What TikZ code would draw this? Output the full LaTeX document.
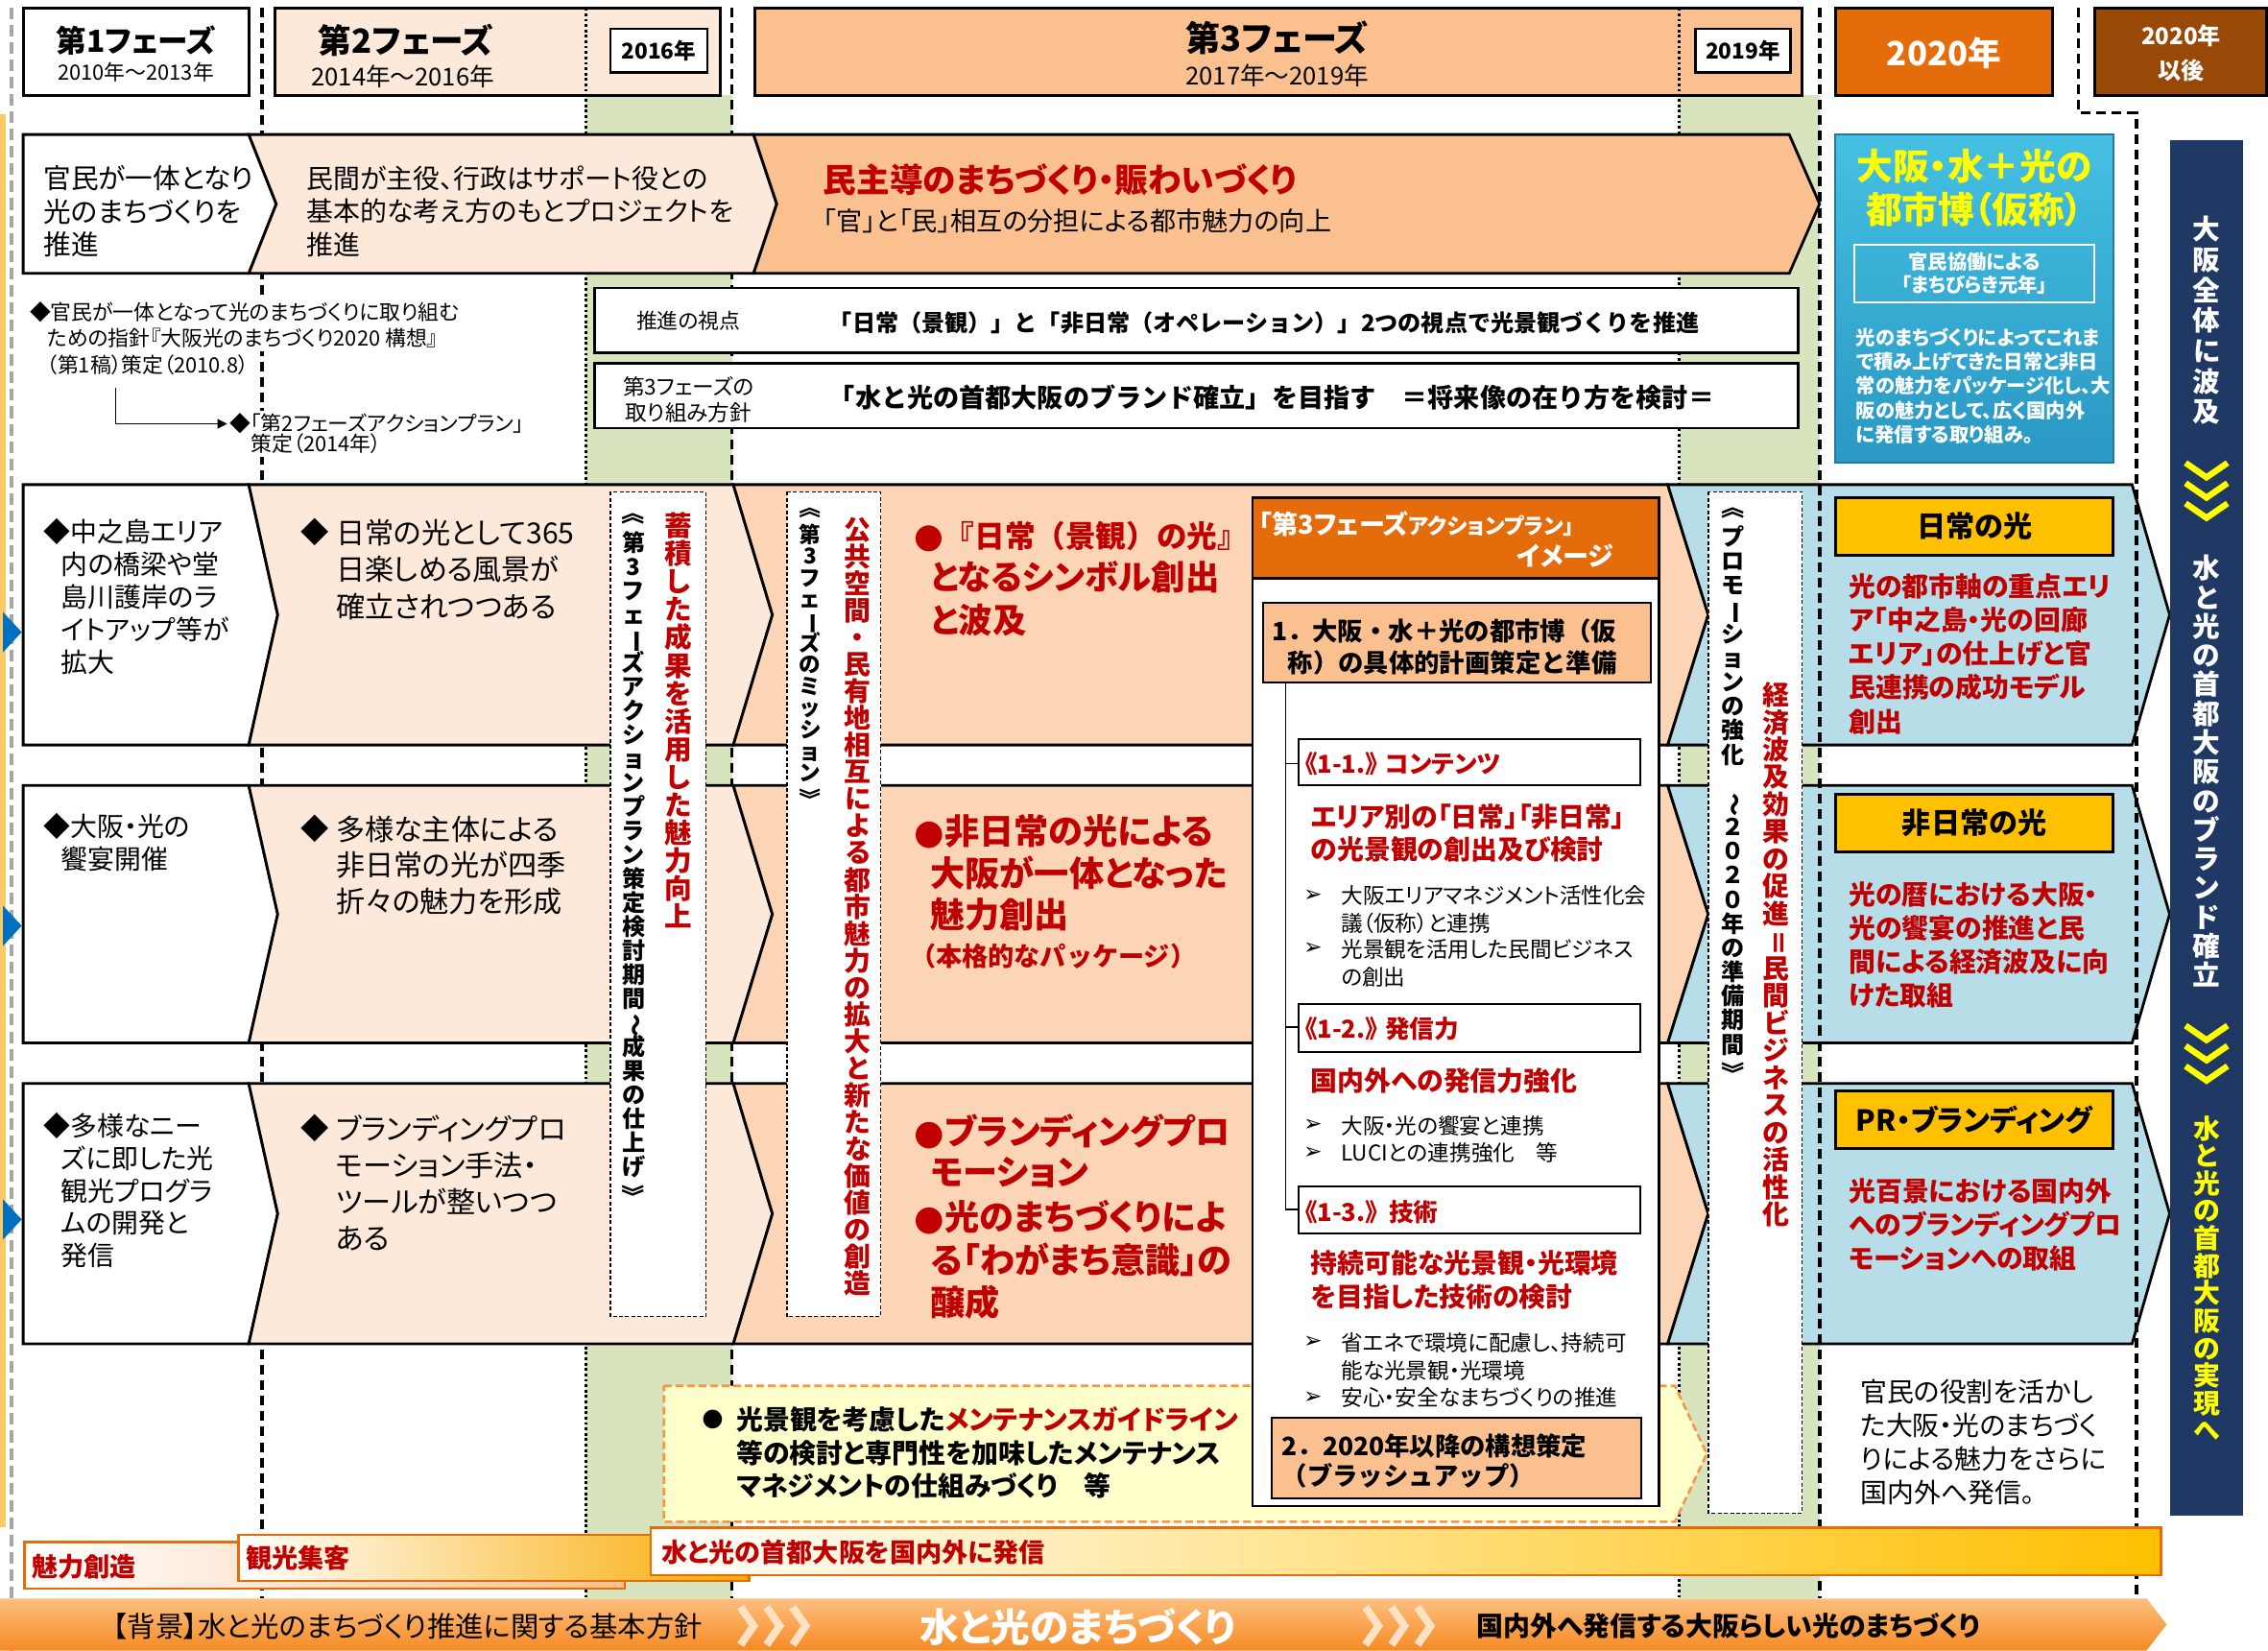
\documentclass[tikz,border=0pt]{standalone}
\usepackage{fontspec}
\usepackage{graphicx}
\setmainfont{Noto Sans CJK JP}[RawFeature=+palt]
\newfontfamily\fw{Noto Sans CJK JP}
\newfontfamily\dv{DejaVu Sans}
\usetikzlibrary{arrows.meta}
\newcommand\fs[2]{\fontsize{\dimexpr#1pt*3/4\relax}{\dimexpr#2pt*3/4\relax}\selectfont}
\newcommand\ind[1]{\hspace*{\dimexpr#1pt*3/4\relax}}
\newcommand\rt[1]{\rotatebox[origin=c]{-90}{#1}}
\ExplSyntaxOn
\dim_new:N \l__vt_p_dim
\NewDocumentCommand \vtext { m m }
  {
    \dim_set:Nn \l__vt_p_dim { #1 pt * 3 / 4 }
    \vbox:n
      {
        \offinterlineskip
        \tl_map_inline:nn { #2 }
          {
            \hbox_to_wd:nn { 1.3em }
              {
                \hss
                \vrule height 0.88 \l__vt_p_dim depth 0.12 \l__vt_p_dim width 0pt \scan_stop:
                \smash { ##1 }
                \hss
              }
          }
      }
  }
\ExplSyntaxOff
\definecolor{myred}{HTML}{C00000}
\definecolor{peachA}{HTML}{FDE9D9}
\definecolor{peachB}{HTML}{FBD5B5}
\definecolor{peachC}{HTML}{FAC090}
\definecolor{lblue}{HTML}{B7DEE8}
\definecolor{lgreen}{HTML}{D7E4BD}
\definecolor{orgA}{HTML}{E46C0A}
\definecolor{brownA}{HTML}{984807}
\definecolor{navyA}{HTML}{1F3864}
\definecolor{yelA}{HTML}{FFC000}
\definecolor{ylight}{HTML}{FFFFCC}
\definecolor{borg}{HTML}{F79646}
\definecolor{blueA}{HTML}{0070C0}
\definecolor{cyanA}{HTML}{45C0E2}
\definecolor{cyanB}{HTML}{2A98C4}
\definecolor{yellowT}{HTML}{FFFF00}
\definecolor{lorange}{HTML}{FFC966}
\definecolor{stripT}{HTML}{FDBF80}
\definecolor{stripB}{HTML}{F68A24}
\definecolor{chevL}{HTML}{FFE2C4}
\begin{document}
\begin{tikzpicture}[x=0.75pt,y=-0.75pt,
  seg/.style={draw=black,line width=1.4pt,line join=miter},
  hbox/.style={draw=black,line width=1.6pt},
  tx/.style={inner sep=0pt,anchor=west},
  blk/.style={inner sep=0pt,anchor=north west,align=left},
  ctr/.style={inner sep=0pt,align=center},
  bdash/.style={draw=black,line width=1.8pt,dash pattern=on 5pt off 3pt},
  dotline/.style={draw=black,line width=1.4pt,dash pattern=on 1.4pt off 1.4pt},
  gdash/.style={draw=gray!70,line width=1.6pt,dash pattern=on 6pt off 3pt},
  vcol/.style={draw=black,fill=white,line width=0.7pt,dash pattern=on 2pt off 1.2pt},
  rd/.style={text=myred},
  vt/.style={inner sep=0pt,anchor=north},
  note/.style={inner xsep=1pt,inner ysep=1.5pt,anchor=west,fill=white,font=\fs{14.5}{16}},
]
\useasboundingbox (0,0) rectangle (1568,1141);
\fill[white] (0,0) rectangle (1568,1141);

% ---------- background bands and timeline lines
\fill[lgreen] (405,66) rectangle (506,1105);
\fill[lgreen] (1161,66) rectangle (1258,1105);
\draw[dotline] (405,5) -- (405,1105);
\draw[dotline] (1161,5) -- (1161,1105);
\draw[bdash] (181,5) -- (181,1105);
\draw[bdash] (506,5) -- (506,1105);
\draw[gdash] (8,5) -- (8,1141);
\fill[lorange] (0,79) rectangle (4,1056);

% ---------- header
\filldraw[hbox,fill=white] (16,5.5) rectangle (172,66);
\node[ctr,font=\bfseries\fs{21}{24}] (p1) at (94,28) {第1フェーズ};
\node[ctr,font=\fs{14.5}{16}] (p1y) at (94,50) {2010年～2013年};

\filldraw[hbox,fill=peachA] (190,5.5) rectangle (498,66);
\draw[dotline] (405,5.5) -- (405,66);
\node[tx,font=\bfseries\fs{23}{24}] (p2) at (220,28) {第2フェーズ};
\node[tx,font=\fs{17}{18}] (p2y) at (215,53) {2014年～2016年};
\filldraw[draw=black,line width=1.3pt,fill=white] (422,20) rectangle (489,50);
\node[ctr,font=\bfseries\fs{15}{16}] (y16) at (455.5,35) {2016年};

\filldraw[hbox,fill=peachC] (522,5.5) rectangle (1246,66);
\draw[dotline] (1161,5.5) -- (1161,66);
\node[ctr,font=\bfseries\fs{24}{26}] (p3) at (883,26) {第3フェーズ};
\node[ctr,font=\fs{17}{18}] (p3y) at (883,52) {2017年～2019年};
\filldraw[draw=black,line width=1.3pt,fill=white] (1172,20) rectangle (1238,50);
\node[ctr,font=\bfseries\fs{15}{16}] (y19) at (1205,35) {2019年};

\filldraw[hbox,fill=orgA] (1269,5.5) rectangle (1419,66);
\node[ctr,text=white,font=\bfseries\fs{23}{24}] (y20) at (1344,37) {2020年};
\filldraw[hbox,fill=brownA] (1448,5.5) rectangle (1567,66);
\node[ctr,text=white,font=\bfseries\fs{16}{24}] (y20a) at (1508,37) {2020年\\以後};

% ---------- concept row
\filldraw[seg,fill=white] (16,93) -- (172,93) -- (191,141) -- (172,189) -- (16,189) -- cycle;
\filldraw[seg,fill=peachA] (172,93) -- (521,93) -- (537,141) -- (521,189) -- (172,189) -- (191,141) -- cycle;
\filldraw[seg,fill=peachC] (521,93) -- (1237,93) -- (1258,141) -- (1237,189) -- (521,189) -- (537,141) -- cycle;
\node[blk,font=\fs{19}{23}] (c1) at (30,114) {官民が一体となり\\光のまちづくりを\\推進};
\node[blk,font=\fs{18.5}{23}] (c2) at (212,114.3) {民間が主役、行政はサポート役との\\基本的な考え方のもとプロジェクトを\\推進};
\node[tx,rd,font=\bfseries\fs{23}{24}] (c3) at (569,124) {民主導のまちづくり・賑わいづくり};
\node[tx,font=\fs{18}{20}] (c3b) at (569,153) {「官」と「民」相互の分担による都市魅力の向上};

% ---------- notes
\coordinate (na) at (80,268);
\node[note] (n1) at (19,216) {◆官民が一体となって光のまちづくりに取り組む};
\node[note] (n2) at (31,234) {ための指針『大阪光のまちづくり2020 構想』};
\node[note] (n3) at (31,252) {（第1稿）策定（2010.8）};
\node[note] (n4) at (157,293) {◆「第2フェーズアクションプラン」};
\node[note] (n5) at (172,307) {策定（2014年）};
\draw[line width=0.6pt,-{Triangle[length=5pt,width=5pt]}] (na) |- (n4.west);

% ---------- viewpoint boxes
\filldraw[draw=black,line width=1.3pt,fill=white] (411,199) rectangle (1243,244);
\node[ctr,font=\fs{14.5}{16}] (v1) at (476,222) {推進の視点};
\node[tx,font=\fw\bfseries\fs{16}{18}] (v1t) at (573,223) {「日常（景観）」と「非日常（オペレーション）」2つの視点で光景観づくりを推進};
\filldraw[draw=black,line width=1.3pt,fill=white] (411,251) rectangle (1243,296);
\node[ctr,font=\fs{15}{18}] (v2) at (476,276) {第3フェーズの\\取り組み方針};
\node[tx,font=\fw\bfseries\fs{18}{20}] (v2t) at (573,275) {「水と光の首都大阪のブランド確立」を目指す　＝将来像の在り方を検討＝};

% ---------- three rows
\foreach \t/\b in {335/515,543/721,749/929}{
  \pgfmathsetmacro\m{(\t+\b)/2}
  \filldraw[seg,fill=white] (16,\t) -- (172,\t) -- (192,\m) -- (172,\b) -- (16,\b) -- cycle;
  \filldraw[seg,fill=peachA] (172,\t) -- (507,\t) -- (534,\m) -- (507,\b) -- (172,\b) -- (192,\m) -- cycle;
  \filldraw[seg,fill=peachB] (507,\t) -- (1153,\t) -- (1181,\m) -- (1153,\b) -- (507,\b) -- (534,\m) -- cycle;
  \filldraw[seg,fill=lblue] (1153,\t) -- (1474,\t) -- (1500,\m) -- (1474,\b) -- (1153,\b) -- (1181,\m) -- cycle;
}
\foreach \yy in {437,640,843}{
  \fill[blueA] (2,\yy-14) -- (15,\yy) -- (2,\yy+14) -- cycle;
}

% row 1
\node[blk,font=\fs{18.5}{22.5}] (r1a) at (30,358.3) {◆中之島エリア\\\ind{12}内の橋梁や堂\\\ind{12}島川護岸のラ\\\ind{12}イトアップ等が\\\ind{12}拡大};
\node[tx,font=\fs{19.5}{20}] (r1d) at (208,368) {◆};
\node[blk,font=\fs{20}{25.5}] (r1b) at (232,358.8) {日常の光として365\\日楽しめる風景が\\確立されつつある};
\node[blk,rd,font=\bfseries\fs{23.5}{29.5}] (r1c) at (632,360) {{\dv ●}{\fw\fs{21}{29.5}『日常（景観）の光』}\\\ind{11}となるシンボル創出\\\ind{11}と波及};
% row 2
\node[blk,font=\fs{18.5}{22}] (r2a) at (30,562.3) {◆大阪・光の\\\ind{12}饗宴開催};
\node[tx,font=\fs{19.5}{20}] (r2d) at (208,573) {◆};
\node[blk,font=\fs{20}{25}] (r2b) at (232,563.6) {多様な主体による\\非日常の光が四季\\折々の魅力を形成};
\node[blk,rd,font=\bfseries\fs{24}{29}] (r2c) at (632,562.7) {{\dv ●}非日常の光による\\\ind{11}大阪が一体となった\\\ind{11}魅力創出};
\node[tx,rd,font=\fw\bfseries\fs{18}{20}] (r2e) at (629,661) {（本格的なパッケージ）};
% row 3
\node[blk,font=\fs{18.5}{22.3}] (r3a) at (30,769.3) {◆多様なニー\\\ind{12}ズに即した光\\\ind{12}観光プログラ\\\ind{12}ムの開発と\\\ind{12}発信};
\node[tx,font=\fs{19.5}{20}] (r3d) at (208,780) {◆};
\node[blk,font=\fs{20}{25.3}] (r3b) at (232,770.6) {ブランディングプロ\\モーション手法・\\ツールが整いつつ\\ある};
\node[blk,rd,font=\bfseries\fs{24}{28}] (r3c) at (632,769.7) {{\dv ●}ブランディングプロ\\\ind{11}モーション};
\node[blk,rd,font=\bfseries\fs{24}{29.5}] (r3e) at (632,829.7) {{\dv ●}光のまちづくりによ\\\ind{11}る「わがまち意識」の\\\ind{11}醸成};

% ---------- maintenance box
\filldraw[draw=borg,line width=1.3pt,dash pattern=on 4pt off 2pt,fill=ylight] (459,958) -- (1158,958) -- (1180,1005) -- (1158,1052) -- (459,1052) -- cycle;
\node[tx,font=\dv\bfseries\fs{17}{18}] (mb) at (485,981) {●};
\node[blk,font=\bfseries\fs{18.5}{23}] (mt) at (509,972.3) {光景観を考慮した\textcolor{myred}{メンテナンスガイドライン}\\等の検討と専門性を加味したメンテナンス\\マネジメントの仕組みづくり　等};

% ---------- vertical dashed columns
\filldraw[vcol] (422,340) rectangle (488,910);
\node[vt,font=\bfseries\fs{16}{16}] (col1a) at (438,349.7) {\vtext{16.6}{{\rt{《}}第3フェ{\rt{ー}}ズアクションプラン策定検討期間{\rt{～}}成果の仕上げ{\rt{》}}}};
\node[vt,rd,font=\bfseries\fs{19}{19}] (col1b) at (469,353.4) {\vtext{19.3}{蓄積した成果を活用した魅力向上}};
\filldraw[vcol] (544,340) rectangle (609,910);
\node[vt,font=\bfseries\fs{15}{15}] (col2a) at (560,346.5) {\vtext{15}{{\rt{《}}第3フェ{\rt{ー}}ズのミッション{\rt{》}}}};
\node[vt,rd,font=\bfseries\fs{18.5}{18.5}] (col2b) at (593,356.7) {\vtext{18.6}{公共空間・民有地相互による都市魅力の拡大と新たな価値の創造}};
\filldraw[vcol] (1181,340) rectangle (1246,1046);
\node[vt,font=\bfseries\fs{16}{16}] (col3a) at (1198,345.6) {\vtext{16.7}{{\rt{《}}プロモ{\rt{ー}}ションの強化　{\rt{～}}２０２０年の準備期間{\rt{》}}}};
\node[vt,rd,font=\bfseries\fs{18.5}{18.5}] (col3b) at (1228,470.5) {\vtext{18.9}{経済波及効果の促進{\rt{＝}}民間ビジネスの活性化}};

% ---------- action plan box
\filldraw[draw=black,line width=1.3pt,fill=white] (866,344) rectangle (1147,1041);
\filldraw[draw=black,line width=1.3pt,fill=orgA] (866,344) rectangle (1147,400);
\node[tx,text=white,font=\bfseries] (ah) at (870,362) {{\fs{18}{20}「第3フェーズ}{\fs{15}{17}アクションプラン」}};
\node[inner sep=0pt,anchor=east,text=white,font=\bfseries\fs{18}{20}] (ah2) at (1116,384) {イメージ};
\filldraw[draw=black,line width=1pt,fill=peachC] (873,417) rectangle (1141,472);
\node[blk,font=\fw\bfseries\fs{17.5}{21.5}] (i1) at (879,427.8) {1．大阪・水＋光の都市博（仮\\\ind{11}称）の具体的計画策定と準備};
\coordinate (tr0) at (889,472);
\coordinate (tr1) at (889,528);
\coordinate (tr2) at (889,710);
\coordinate (tr3) at (889,836);
\filldraw[draw=black,line width=1pt,fill=white] (898,511) rectangle (1134,543);
\filldraw[draw=black,line width=1pt,fill=white] (898,694) rectangle (1134,727);
\filldraw[draw=black,line width=1pt,fill=white] (898,820) rectangle (1134,853);
\draw[line width=0.7pt] (tr0) -- (tr3) -- (898,836);
\draw[line width=0.7pt] (tr1) -- (898,528);
\draw[line width=0.7pt] (tr2) -- (898,710);
\node[tx,rd,font=\bfseries\fs{17}{18}] (s1) at (902,528) {《1-1.》 コンテンツ};
\node[tx,rd,font=\bfseries\fs{17}{18}] (s2) at (902,711) {《1-2.》 発信力};
\node[tx,rd,font=\bfseries\fs{17}{18}] (s3) at (902,838) {《1-3.》\ \ 技術};
\node[blk,rd,font=\bfseries\fs{18.5}{23}] (d1) at (906,555.3) {エリア別の「日常」「非日常」\\の光景観の創出及び検討};
\node[tx,rd,font=\bfseries\fs{18.5}{20}] (d2) at (906,747) {国内外への発信力強化};
\node[blk,rd,font=\bfseries\fs{18.5}{23}] (d3) at (906,864.3) {持続可能な光景観・光環境\\を目指した技術の検討};
\foreach \yy in {619,656,778,797,928,966}{
  \node[tx,font=\dv\fs{15.5}{16}] at (901,\yy) {➢};
}
\node[blk,font=\fs{15}{19}] (b1) at (927,612) {大阪エリアマネジメント活性化会\\議（仮称）と連携};
\node[blk,font=\fs{15}{19}] (b2) at (927,649) {光景観を活用した民間ビジネス\\の創出};
\node[tx,font=\fs{15}{16}] (b3) at (927,778) {大阪・光の饗宴と連携};
\node[tx,font=\fs{15}{16}] (b4) at (927,797) {LUCIとの連携強化　等};
\node[blk,font=\fs{15}{19}] (b5) at (927,921) {省エネで環境に配慮し、持続可\\能な光景観・光環境};
\node[tx,font=\fs{15}{16}] (b6) at (927,966) {安心・安全なまちづくりの推進};
\filldraw[draw=black,line width=1pt,fill=peachC] (879,980) rectangle (1135,1036);
\node[blk,font=\fw\bfseries\fs{17.5}{20.5}] (i2) at (886,990.8) {2．2020年以降の構想策定\\（ブラッシュアップ）};

% ---------- 2020 column
\shade[top color=cyanA,bottom color=cyanB] (1269,93) rectangle (1461,320);
\draw[draw=cyanB!80!black,line width=1pt] (1269,93) rectangle (1461,320);
\node[ctr,text=yellowT,font=\bfseries\fs{25}{30}] (ex) at (1365,130) {大阪・水＋光の\\都市博（仮称）};
\draw[white,line width=1pt] (1282,169) rectangle (1448,209);
\node[ctr,text=white,font=\bfseries\fs{13.5}{16}] (ex2) at (1365,189) {官民協働による\\「まちびらき元年」};
\node[blk,text=white,font=\bfseries\fs{13.5}{16.8}] (ex3) at (1283,226.5) {光のまちづくりによってこれま\\で積み上げてきた日常と非日\\常の魅力をパッケージ化し、大\\阪の魅力として、広く国内外\\に発信する取り組み。};

\filldraw[draw=black,line width=1.5pt,fill=yelA] (1269,344) rectangle (1461,384);
\node[ctr,font=\bfseries\fs{20}{22}] (k1) at (1365,364) {日常の光};
\node[blk,rd,font=\bfseries\fs{18.5}{23.3}] (k1t) at (1278,396.3) {光の都市軸の重点エリ\\ア「中之島・光の回廊\\エリア」の仕上げと官\\民連携の成功モデル\\創出};
\filldraw[draw=black,line width=1.5pt,fill=yelA] (1269,549) rectangle (1461,589);
\node[ctr,font=\bfseries\fs{20}{22}] (k2) at (1365,569) {非日常の光};
\node[blk,rd,font=\bfseries\fs{18.5}{23.3}] (k2t) at (1278,609.3) {光の暦における大阪・\\光の饗宴の推進と民\\間による経済波及に向\\けた取組};
\filldraw[draw=black,line width=1.5pt,fill=yelA] (1269,754) rectangle (1461,794);
\node[ctr,font=\bfseries\fs{20}{22}] (k3) at (1365,774) {PR・ブランディング};
\node[blk,rd,font=\bfseries\fs{18.5}{23.3}] (k3t) at (1278,814.3) {光百景における国内外\\へのブランディングプロ\\モーションへの取組};
\node[blk,font=\fs{18.5}{23.3}] (k4) at (1286,953.3) {官民の役割を活かし\\た大阪・光のまちづく\\りによる魅力をさらに\\国内外へ発信。};

% dashed lines above the rows
\draw[bdash] (1258,5) -- (1258,1105);
\draw[bdash] (1437,5) -- (1437,78) -- (1477,78) -- (1477,1105);

% ---------- navy bar
\fill[navyA] (1500,97) rectangle (1551,1048);
\node[vt,text=white,font=\bfseries\fs{19}{19}] (nv1) at (1525.5,147) {\vtext{21}{大阪全体に波及}};
\node[vt,text=white,font=\bfseries\fs{19}{19}] (nv2) at (1525.5,382) {\vtext{20.1}{水と光の首都大阪のブランド確立}};
\node[vt,text=yellowT,font=\bfseries\fs{18.5}{18.5}] (nv3) at (1525.5,770) {\vtext{19}{水と光の首都大阪の実現へ}};
\foreach \yy in {320,334,348,709,723,737}{
  \draw[yellowT,line width=3.2pt,line join=miter] (1511,\yy) -- (1525.5,\yy+10) -- (1540,\yy);
}

% ---------- bottom bars
\shadedraw[draw=orgA,line width=1.2pt,left color=white,right color=peachC] (17,1066) rectangle (432,1098);
\shadedraw[draw=orgA,line width=1.2pt,left color=white,right color=yelA!75!orgA] (165,1061) rectangle (518,1093);
\shadedraw[draw=orgA,line width=1.2pt,left color=white,right color=yelA] (450,1056) rectangle (1494,1089);
\node[tx,rd,font=\bfseries\fs{18}{20}] (bb1) at (22,1083) {魅力創造};
\node[tx,rd,font=\bfseries\fs{18}{20}] (bb2) at (170,1077) {観光集客};
\node[tx,rd,font=\bfseries\fs{18}{20}] (bb3) at (457,1073) {水と光の首都大阪を国内外に発信};

\shade[top color=stripT,bottom color=stripB] (0,1105) -- (1484,1105) -- (1498,1123) -- (1484,1141) -- (0,1141) -- cycle;
\foreach \xx in {512,530,548,944,962,980}{
  \draw[chevL,line width=4pt] (\xx,1111) -- (\xx+9,1124) -- (\xx,1137);
}
\node[ctr,font=\fs{19.5}{20}] (st1) at (282,1124) {【背景】水と光のまちづくり推進に関する基本方針};
\node[ctr,text=white,font=\bfseries\fs{27}{28}] (st2) at (745,1125) {水と光のまちづくり};
\node[ctr,font=\bfseries\fs{18.5}{20}] (st3) at (1195,1124) {国内外へ発信する大阪らしい光のまちづくり};
\end{tikzpicture}
\end{document}
